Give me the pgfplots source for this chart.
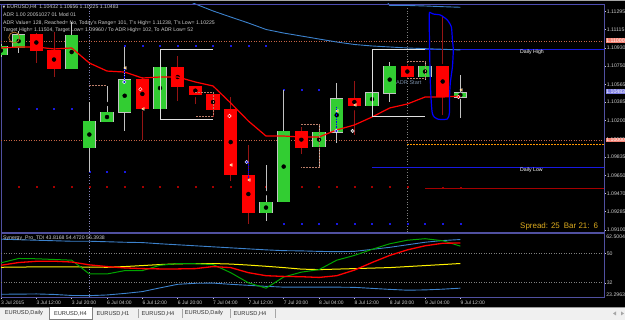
\documentclass[border=0pt]{standalone}
\usepackage{pgfplots}
\pgfplotsset{compat=1.18}
\usepackage{pgfplotstable}
\usepackage{fontspec}
\setmainfont{Liberation Sans}
\newfontfamily\dejavu{DejaVu Sans}

\definecolor{cgreen}{RGB}{50,205,50}
\definecolor{cred}{RGB}{255,0,0}
\definecolor{wickred}{RGB}{150,20,20}
\definecolor{wickgray}{RGB}{195,195,195}
\definecolor{steel}{RGB}{60,130,205}
\definecolor{lbl}{RGB}{205,205,205}
\definecolor{frm}{RGB}{80,80,160}
\definecolor{salm}{RGB}{245,130,115}
\definecolor{rosy}{RGB}{185,125,105}
\definecolor{goldt}{RGB}{220,170,30}
\definecolor{lav}{RGB}{125,125,225}
\definecolor{adrc}{RGB}{120,140,165}
\definecolor{lvl}{RGB}{200,100,70}
\definecolor{dblue}{RGB}{25,25,225}
\definecolor{dred}{RGB}{165,0,0}
\definecolor{tdigreen}{RGB}{0,165,0}
\definecolor{tabbg}{RGB}{240,240,240}
\definecolor{tabtxt}{RGB}{50,50,50}
\definecolor{ringc}{RGB}{175,110,40}
\definecolor{orng}{RGB}{255,150,0}

\pgfplotstableread{
k o h l c
0 1.10859 1.10970 1.10839 1.10950
1 1.10930 1.11101 1.10879 1.11070
4 1.10719 1.11191 1.10719 1.11060
5 1.09925 1.10387 1.09683 1.10196
6 1.10186 1.10548 1.10186 1.10286
7 1.10286 1.10940 1.10096 1.10618
9 1.10317 1.10859 1.10216 1.10739
15 1.09271 1.09754 1.09191 1.09382
16 1.09382 1.10508 1.09382 1.10096
18 1.09935 1.10166 1.09734 1.10085
19 1.10085 1.10578 1.09975 1.10427
21 1.10347 1.10528 1.10307 1.10487
22 1.10477 1.10789 1.10387 1.10749
24 1.10638 1.10789 1.10608 1.10749
26 1.10432 1.10656 1.10225 1.10483
}\greencandles

\pgfplotstableread{
k o h l c
2 1.11070 1.11080 1.10779 1.10900
3 1.10910 1.11090 1.10638 1.10719
8 1.10618 1.10638 1.10005 1.10317
10 1.10739 1.10849 1.10397 1.10538
11 1.10548 1.10548 1.10367 1.10457
12 1.10467 1.10487 1.10236 1.10307
13 1.10317 1.10437 1.09593 1.09653
14 1.09653 1.09955 1.09161 1.09271
17 1.10096 1.10136 1.09864 1.09925
20 1.10427 1.10598 1.10055 1.10347
23 1.10749 1.10769 1.10628 1.10638
25 1.10749 1.11238 1.10256 1.10437
}\redcandles

\pgfplotstableread{
k p
0 1.10930
1 1.10940
2 1.10940
3 1.10920
4 1.10930
5 1.10779
6 1.10698
7 1.10688
8 1.10628
9 1.10638
10 1.10638
11 1.10588
12 1.10548
13 1.10377
14 1.10196
15 1.10045
16 1.10045
17 1.10035
18 1.10035
19 1.10106
20 1.10156
21 1.10236
22 1.10327
23 1.10367
24 1.10437
25 1.10437
26 1.10447
}\ma

\pgfplotstableread{
k p
10 1.11452
11 1.11372
12 1.11302
13 1.11241
14 1.11181
15 1.11116
16 1.11080
17 1.11050
18 1.11020
19 1.10990
20 1.10965
21 1.10950
22 1.10940
23 1.10930
24 1.10923
25 1.10917
26 1.10910
}\bandA

\pgfplotstableread{
k p
21 1.11613
22 1.11357
23 1.11357
24 1.11352
25 1.11345
26 1.11339
}\bandB

\pgfplotstableread{
k up lo yel red grn
0 58.69 24.98 41.50 42.74 44.23
1 58.38 25.05 41.62 44.41 46.90
2 58.07 25.17 41.74 45.16 46.71
3 57.76 24.86 41.74 45.22 46.28
4 57.45 24.24 41.74 44.72 45.84
5 57.45 24.12 41.62 42.99 37.40
6 57.14 24.55 41.50 41.93 37.40
7 56.83 25.48 41.93 41.12 39.45
8 56.64 26.60 42.55 40.69 39.45
9 55.90 28.89 43.17 40.50 42.74
10 55.28 31.07 43.61 40.50 43.79
11 54.66 31.69 43.79 40.69 43.67
12 54.03 31.81 43.79 41.93 43.17
13 53.41 31.07 43.48 41.31 38.21
14 52.79 30.45 42.86 38.21 32.00
15 52.17 29.83 42.12 36.34 28.71
16 51.68 29.33 41.31 35.91 35.54
17 51.55 29.33 40.38 35.72 38.52
18 51.24 29.33 40.07 35.29 40.07
19 51.06 29.33 40.38 36.34 45.84
20 51.24 29.21 40.69 39.76 48.76
21 52.48 28.58 41.00 44.41 52.48
22 53.72 27.96 41.31 48.76 55.90
23 55.28 27.47 41.93 52.17 58.07
24 56.83 27.65 42.55 54.66 59.00
25 57.88 28.09 43.17 56.21 57.76
26 58.50 28.71 43.82 56.39 54.47
}\tdi

\begin{document}
\begin{tikzpicture}
\useasboundingbox (0,0) rectangle (625bp,320bp);
\clip (0,0) rectangle (625bp,320bp);
\fill[black] (0,0) rectangle (625bp,320bp);

% ---------------- main price panel ----------------
\begin{axis}[
  at={(1bp,88bp)}, anchor=south west, scale only axis,
  width=603bp, height=228bp,
  xmin=0, xmax=34.13, ymin=1.090805, ymax=1.113719,
  clip mode=individual,
  axis line style={draw=frm, line width=0.9bp},
  xtick=\empty,
  ytick={1.11295,1.11115,1.10930,1.10750,1.10565,1.10385,1.10200,1.09835,1.09650,1.09470,1.09285,1.09100},
  yticklabels={1.11295,1.11115,1.10930,1.10750,1.10565,1.10385,1.10200,1.09835,1.09650,1.09470,1.09285,1.09100},
  ytick pos=right, yticklabel pos=right,
  tick align=outside, major tick length=2bp,
  tick style={draw=lbl, line width=0.5bp},
  yticklabel style={font=\fontsize{5.2}{6}\selectfont, text=lbl, anchor=west, inner sep=0.6bp},
]
% separators
\addplot[frm!70!white, dotted, line width=0.7bp] coordinates {(5,1.0908) (5,1.1137)};
\addplot[gray, dotted, line width=0.7bp] coordinates {(23,1.0908) (23,1.1137)};
% level lines
\addplot[lvl, dash pattern=on 1bp off 1.5bp, line width=0.8bp] coordinates {(0,1.11) (34.15,1.11)};
\addplot[lvl, dash pattern=on 1bp off 1.5bp, line width=0.8bp] coordinates {(0,1.10) (34.15,1.10)};
\addplot[orng, dash pattern=on 2bp off 1bp, line width=0.8bp] coordinates {(23,1.09965) (34.15,1.09965)};
\addplot[dblue, line width=0.9bp] coordinates {(21,1.10917) (34.15,1.10917)};
\addplot[dblue, line width=0.9bp] coordinates {(21,1.09734) (34.15,1.09734)};
\addplot[dred, line width=0.9bp] coordinates {(24,1.09523) (34.15,1.09523)};
% dots
\addplot[only marks, mark=square*, mark size=0.6bp, dred] coordinates {(1,1.09533)(2,1.09533)(3,1.09533)(4,1.09533)(5,1.09533)(6,1.09533)(7,1.09533)(8,1.09533)(9,1.09533)(10,1.09533)(11,1.09533)(12,1.09533)(13,1.09533)(14,1.09533)(15,1.09533)(16,1.09533)(17,1.09533)(18,1.09533)(19,1.09533)(20,1.09533)(21,1.09533)(22,1.09533)(23,1.09533)(25,1.09523)(26,1.09523)};
\addplot[only marks, mark=square*, mark size=0.6bp, dblue] coordinates {(7,1.10950)(8,1.10950)(9,1.10950)(10,1.10950)(11,1.10950)(12,1.10950)(13,1.10950)(14,1.10950)(15,1.10950)
 (1,1.10317)(2,1.10317)(3,1.10317)(4,1.10317)
 (5,1.09683)(6,1.09683)(7,1.09683)
 (16,1.10508)(17,1.10508)(18,1.10508)
 (16,1.09161)(17,1.09161)(18,1.09161)(19,1.09161)(20,1.09161)(21,1.09161)(22,1.09161)(23,1.09161)(24,1.09161)(25,1.09161)(26,1.09161)};
% bands
\addplot[steel, line width=0.9bp] table[x=k,y=p] {\bandA};
\addplot[steel, line width=0.9bp] table[x=k,y=p] {\bandB};
% wicks
\addplot[only marks, mark=none, error bars/.cd, y dir=both, y explicit, error mark=none,
  error bar style={draw=wickgray, line width=1bp}]
  table[x=k, y expr={(\thisrow{h}+\thisrow{l})/2}, y error expr={(\thisrow{h}-\thisrow{l})/2}] {\greencandles};
\addplot[only marks, mark=none, error bars/.cd, y dir=both, y explicit, error mark=none,
  error bar style={draw=wickred, line width=1bp}]
  table[x=k, y expr={(\thisrow{h}+\thisrow{l})/2}, y error expr={(\thisrow{h}-\thisrow{l})/2}] {\redcandles};
% bodies
\addplot[only marks, mark=none, error bars/.cd, y dir=both, y explicit, error mark=none,
  error bar style={draw=wickgray, line width=13.4bp}]
  table[x=k, y expr={(\thisrow{o}+\thisrow{c})/2}, y error expr={abs(\thisrow{c}-\thisrow{o})/2+0.00004}] {\greencandles};
\addplot[only marks, mark=none, error bars/.cd, y dir=both, y explicit, error mark=none,
  error bar style={draw=cgreen, line width=11.8bp}]
  table[x=k, y expr={(\thisrow{o}+\thisrow{c})/2}, y error expr={abs(\thisrow{c}-\thisrow{o})/2-0.00004}] {\greencandles};
\addplot[only marks, mark=none, error bars/.cd, y dir=both, y explicit, error mark=none,
  error bar style={draw=cred, line width=13.4bp}]
  table[x=k, y expr={(\thisrow{o}+\thisrow{c})/2}, y error expr={abs(\thisrow{c}-\thisrow{o})/2}] {\redcandles};
% moving average
\addplot[cred, line width=1.2bp] table[x=k,y=p] {\ma};
% boxes
\addplot[white!88!black, line width=1bp] coordinates {(12,1.10910)(9,1.10910)(9,1.10216)(12,1.10216)};
\addplot[white!88!black, line width=1bp] coordinates {(24,1.10917)(21,1.10917)(21,1.10246)(24,1.10246)};
% brackets
\addplot[rosy, dash pattern=on 2bp off 1bp, line width=0.8bp] coordinates {(5,1.10558)(6,1.10558)};
\addplot[rosy, dash pattern=on 2bp off 1bp, line width=0.8bp] coordinates {(11,1.10487)(12,1.10487)(12,1.10246)(11,1.10246)};
\addplot[rosy, dash pattern=on 2bp off 1bp, line width=0.8bp] coordinates {(17,1.10166)(18,1.10166)(18,1.09734)(17,1.09734)};
\addplot[rosy, dash pattern=on 2bp off 1bp, line width=0.8bp] coordinates {(23,1.10799)(24,1.10799)(24,1.10628)(23,1.10628)};
% ADR shape
\addplot[blue, line width=1.2bp, smooth, tension=0.4] coordinates {(24.245,1.11291)(24.245,1.11080)(24.30,1.10578)(24.41,1.10276)(24.70,1.10216)(25.26,1.10216)(25.38,1.10276)(25.38,1.10407)(25.43,1.10578)(25.55,1.10739)(25.60,1.10910)(25.55,1.11010)(25.49,1.11141)(25.26,1.11211)(24.87,1.11261)(24.47,1.11271)(24.245,1.11291)};
% signal markers
\addplot[blue, densely dotted, line width=0.7bp] coordinates {(7,1.10719)(7,1.10588)};
\addplot[blue, densely dotted, line width=0.7bp] coordinates {(14,1.09784)(14,1.09603)};
\addplot[blue, densely dotted, line width=0.7bp] coordinates {(19,1.10337)(19,1.10106)};
\addplot[only marks, mark=o, mark size=5.5bp, ringc, line width=0.8bp] coordinates {(0.75,1.11035)};
\addplot[only marks, mark=*, mark size=1.8bp, mark options={draw=white, fill=dblue}] coordinates {(6.98,1.10588)(18.98,1.10096)(13.9,1.09784)};
\addplot[only marks, mark=*, mark size=1.8bp, mark options={draw=white, fill=cred}] coordinates {(7.89,1.10515)(12.93,1.10246)(25.89,1.10437)};
\addplot[only marks, mark=*, mark size=1.8bp, mark options={draw=white, fill=gray}] coordinates {(19.9,1.10096)};
\addplot[only marks, mark=triangle*, mark size=1.6bp, mark options={rotate=90, draw=white, fill=orng}] coordinates {(7.04,1.10729)(8.06,1.10317)(13.04,1.09754)(14.06,1.09603)(19.04,1.10297)(20.06,1.10357)(26.06,1.10508)};
\end{axis}

% ---------------- TDI panel ----------------
\begin{axis}[
  at={(1bp,23bp)}, anchor=south west, scale only axis,
  width=603bp, height=64bp,
  xmin=0, xmax=34.13, ymin=23.2963, ymax=62.5004,
  clip mode=individual,
  axis line style={draw=frm, line width=0.9bp},
  xtick={0,2,...,26},
  xticklabels={3 Jul 2015,3 Jul 12:00,3 Jul 20:00,6 Jul 04:00,6 Jul 12:00,6 Jul 20:00,7 Jul 04:00,7 Jul 12:00,7 Jul 20:00,8 Jul 04:00,8 Jul 12:00,8 Jul 20:00,9 Jul 04:00,9 Jul 12:00},
  xtick pos=bottom, ytick pos=right, yticklabel pos=right,
  ytick={32,50}, yticklabels={32,50},
  tick align=outside, major tick length=2bp,
  tick style={draw=lbl, line width=0.5bp},
  xticklabel style={font=\fontsize{5}{6}\selectfont, text=lbl, anchor=north west, inner sep=0.5bp, xshift=-0.5bp, yshift=-1bp},
  yticklabel style={font=\fontsize{5.2}{6}\selectfont, text=lbl, anchor=west, inner sep=0.6bp},
]
\addplot[frm!70!white, dotted, line width=0.7bp] coordinates {(5,23.3) (5,62.5)};
\addplot[gray, dash pattern=on 1bp off 1.5bp, line width=0.7bp] coordinates {(0,50) (34.15,50)};
\addplot[gray, dash pattern=on 1bp off 1.5bp, line width=0.7bp] coordinates {(0,32) (34.15,32)};
\addplot[steel, line width=0.9bp] table[x=k,y=up] {\tdi};
\addplot[steel, line width=0.9bp] table[x=k,y=lo] {\tdi};
\addplot[yellow, line width=1bp] table[x=k,y=yel] {\tdi};
\addplot[tdigreen, line width=1bp] table[x=k,y=grn] {\tdi};
\addplot[cred, line width=1.3bp] table[x=k,y=red] {\tdi};
\end{axis}

% ---------------- texts and window chrome ----------------
\begin{scope}[x=1bp,y=-1bp,shift={(0,320bp)}]
\draw[gray!70, line width=1bp] (0,0.5) -- (625,0.5);
\draw[gray!60!blue, line width=0.6bp] (0,4) -- (604,4);
\tikzset{hdr/.style={anchor=west, inner sep=0, text=lbl, font=\fontsize{5.2}{6}\selectfont}}
\node[hdr] at (2.5,7.5) {{\dejavu\fontsize{3.6}{4}\selectfont ▼}\ EURUSD,H4\enspace 1.10432 1.10656 1.10225 1.10483};
\node[hdr] at (3,15) {ADR 1.00 20051027 01 Mod 01};
\node[hdr] at (3,23) {ADR Value= 128, Reached= No, Today's Range= 101, T's High= 1.11238, T's Low= 1.10225};
\node[hdr] at (3,30) {Target High= 1.11504, Target Low= 1.09960 / To ADR High= 102, To ADR Low= 52};
\node[hdr, text=adrc, font=\fontsize{5.6}{6}\selectfont] at (396,83) {ADR Start};
\node[hdr, text=white] at (520,52) {Daily High};
\node[hdr, text=white] at (520,170) {Daily Low};
\node[hdr, text=goldt, font=\fontsize{8}{9}\selectfont] at (520,226) {Spread: 25\enspace Bar 21:\enspace 6};
\node[hdr] at (3,238.5) {Synergy\_Pro\_TDI 43.8168 54.4720 56.3938};
% highlighted price labels
\node[anchor=west, fill=salm, text=white, inner sep=0.6bp, font=\fontsize{5.2}{6}\selectfont] at (605.5,40.7) {1.11000};
\node[anchor=west, fill=lav, text=white, inner sep=0.6bp, font=\fontsize{5.2}{6}\selectfont] at (605.5,91.5) {1.10483};
\node[anchor=west, fill=salm, text=white, inner sep=0.6bp, font=\fontsize{5.2}{6}\selectfont] at (605.5,140) {1.10000};
\node[anchor=west, text=lbl, inner sep=0.6bp, font=\fontsize{5.2}{6}\selectfont] at (605.5,236.5) {62.5004};
\node[anchor=west, text=lbl, inner sep=0.6bp, font=\fontsize{5.2}{6}\selectfont] at (605.5,295) {23.2963};
% tab bar
\fill[tabbg] (0,307.5) rectangle (625,320);
\draw[gray!80, line width=0.8bp] (0,307.3) -- (625,307.3);
\fill[white] (49,307.3) rectangle (92,319);
\draw[gray, line width=0.6bp] (49,307.3) -- (49,319) -- (92,319) -- (92,307.3);
\tikzset{tab/.style={inner sep=0, text=tabtxt, font=\fontsize{5.7}{6}\selectfont}}
\node[tab] at (24,313.5) {EURUSD,Daily};
\node[tab] at (70.5,313.5) {EURUSD,H4};
\node[tab] at (113,313.5) {EURUSD,H1};
\node[tab] at (158,313.5) {EURUSD,H4};
\node[tab] at (204,313.5) {EURUSD,Daily};
\node[tab] at (250,313.5) {EURUSD,H4};
\foreach \sx in {138,182,230,275} {\draw[gray!70, line width=0.6bp] (\sx,309.5) -- (\sx,318);}
\fill[gray!70] (613,313.5) -- (616,311.5) -- (616,315.5) -- cycle;
\fill[gray!70] (624,313.5) -- (621,311.5) -- (621,315.5) -- cycle;
\end{scope}
\end{tikzpicture}
\end{document}
